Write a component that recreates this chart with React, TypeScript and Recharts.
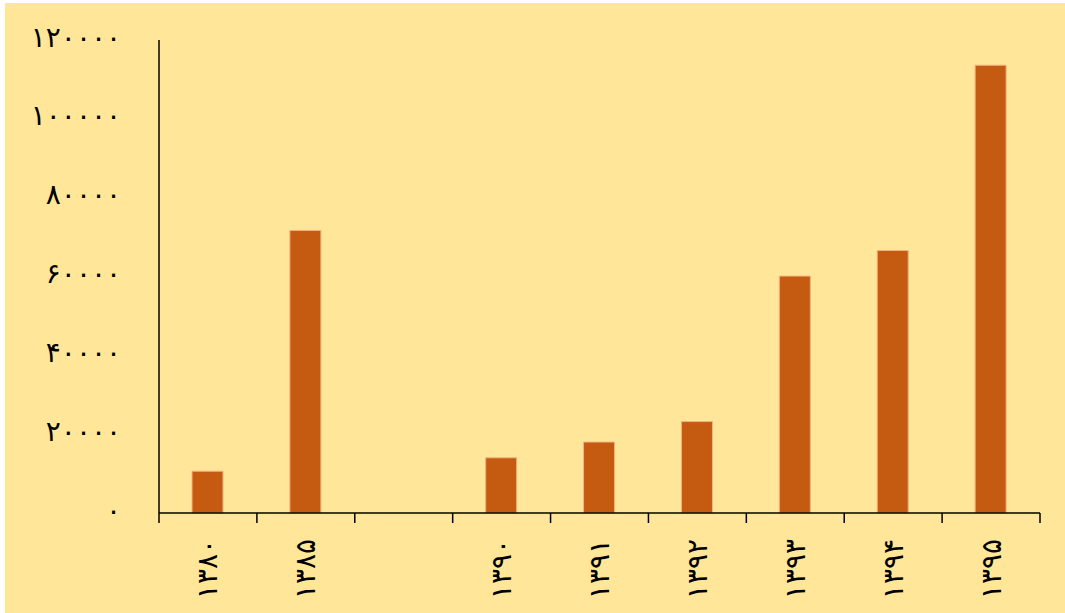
import React from 'react';
import { BarChart, Bar, XAxis, YAxis } from 'recharts';

const years = ['۱۳۸۰', '۱۳۸۵', '', '۱۳۹۰', '۱۳۹۱', '۱۳۹۲', '۱۳۹۳', '۱۳۹۴', '۱۳۹۵'];
const values = [10600, 71700, null, 14000, 18000, 23200, 60100, 66600, 113600];
const yTicks = [0, 20000, 40000, 60000, 80000, 100000, 120000];

const data = years.map((year, i) => ({ year, value: values[i] }));

const FONT = '"DejaVu Sans", sans-serif';
const BAND = (1040 - 159) / years.length;

// western digits -> persian digits
const toFa = (n: number | string) =>
  String(n).replace(/[0-9]/g, (d) => '۰۱۲۳۴۵۶۷۸۹'[Number(d)]);

// tick mark at the left edge of each category, label rotated in the middle
const XTick = (props: any) => {
  const { x, y, payload, index } = props;
  const half = payload && payload.offset ? payload.offset : BAND / 2;
  const left = x - half;
  const right = x + half;
  return (
    <g>
      <line x1={left} y1={y} x2={left} y2={y + 10} stroke="#000" strokeWidth={1.5} />
      {index === years.length - 1 && (
        <line x1={right} y1={y} x2={right} y2={y + 10} stroke="#000" strokeWidth={1.5} />
      )}
      <text
        x={0}
        y={0}
        transform={`translate(${x},${y + 26}) rotate(-90)`}
        textAnchor="end"
        dominantBaseline="central"
        fontFamily={FONT}
        fontSize={28}
        fill="#000"
      >
        {payload.value}
      </text>
    </g>
  );
};

const YTick = (props: any) => {
  const { x, y, payload } = props;
  return (
    <text
      x={x}
      y={y - 3}
      textAnchor="end"
      dominantBaseline="central"
      fontFamily={FONT}
      fontSize={28}
      letterSpacing={1}
      fill="#000"
    >
      {toFa(payload.value)}
    </text>
  );
};

export default function App() {
  return (
    <div style={{ position: 'absolute', left: 0, top: 0, width: 1065, height: 613, background: '#fff' }}>
      <div style={{ position: 'absolute', left: 5, top: 3, right: 0, bottom: 0, background: '#FFE699' }} />
      <div style={{ position: 'absolute', left: 0, top: 0 }}>
        <BarChart
          width={1065}
          height={613}
          data={data}
          margin={{ top: 40, right: 25, bottom: 30, left: 9 }}
        >
          <XAxis
            dataKey="year"
            interval={0}
            tickLine={false}
            tickSize={0}
            tickMargin={0}
            axisLine={{ stroke: '#000', strokeWidth: 1.5 }}
            tick={<XTick />}
            height={70}
          />
          <YAxis
            domain={[0, 120000]}
            ticks={yTicks}
            width={150}
            tickLine={false}
            tickSize={0}
            tickMargin={38}
            axisLine={{ stroke: '#000', strokeWidth: 1.5 }}
            tick={<YTick />}
          />
          <Bar
            dataKey="value"
            fill="#C55A11"
            stroke="#F4B183"
            strokeWidth={1}
            barSize={31}
            isAnimationActive={false}
          />
        </BarChart>
      </div>
    </div>
  );
}
